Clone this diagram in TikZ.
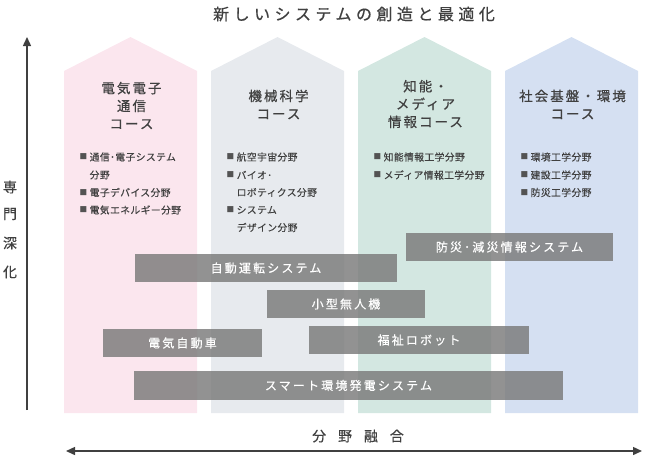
\documentclass[tikz,border=0pt]{standalone}
\usepackage{fontspec}
\setmainfont{Noto Sans CJK JP}
\usetikzlibrary{arrows.meta}
\definecolor{cpink}{HTML}{FBE6EE}
\definecolor{cgray}{HTML}{E7EAEE}
\definecolor{cmint}{HTML}{D3E7E1}
\definecolor{cblue}{HTML}{D5E0F2}
\definecolor{ink}{HTML}{404040}
\definecolor{barfill}{HTML}{7A7A7A}
\newcommand\housecol[2]{\fill[#2] (#1,413) -- (#1,71) -- ({#1+66.5},37) -- ({#1+133},71) -- ({#1+133},413) -- cycle;}
\begin{document}
\begin{tikzpicture}[x=1pt,y=-1pt,
  coltitle/.style={align=center, text=ink, inner sep=0pt, font=\fontsize{13.5}{17.8}\selectfont\addfontfeature{LetterSpace=15,FakeBold=0.6}},
  bul/.style={anchor=west, text=ink, inner sep=0pt, font=\fontsize{9.8}{12}\selectfont\addfontfeature{LetterSpace=4,FakeBold=0.3}},
  bulmark/.style={anchor=west, text=ink!90, inner sep=0pt, font=\fontsize{7.6}{10}\selectfont},
  bar/.style={fill=barfill, fill opacity=0.82, text opacity=1, text=white, inner sep=0pt, minimum height=28pt, font=\fontsize{12}{14}\selectfont\addfontfeature{LetterSpace=18,FakeBold=0.4}},
  axisarrow/.style={draw=ink, line width=1.4pt, -{Triangle[length=9pt,width=8pt]}},
  axisarrow2/.style={draw=ink, line width=1.4pt, {Triangle[length=9pt,width=8pt]}-{Triangle[length=9pt,width=8pt]}},
  vlabel/.style={text=ink, inner sep=0pt, font=\fontsize{14}{16}\selectfont\addfontfeature{FakeBold=0.5}}
]
\useasboundingbox (0,0) rectangle (650,459);

% title
\node[text=ink, font=\fontsize{16}{18}\selectfont\addfontfeature{LetterSpace=28,FakeBold=0.6}] (title) at (354,14) {新しいシステムの創造と最適化};

% columns
\housecol{64}{cpink}
\housecol{211}{cgray}
\housecol{358}{cmint}
\housecol{505}{cblue}

% column titles
\node[coltitle] (t1) at (131.5,105.5) {電気電子\\通信\\コース};
\node[coltitle] (t2) at (278.5,104.5) {機械科学\\コース};
\node[coltitle] (t3) at (425.5,104) {知能・\\メディア\\情報コース};
\node[coltitle] (t4) at (572.5,104.5) {社会基盤・環境\\コース};

% bullets column 1
\node[bulmark] (b11) at (79.5,157) {■};
\node[bul] (l11) at (89.5,157) {通信･電子システム};
\node[bul] (l12) at (89.5,175) {分野};
\node[bulmark] (b12) at (79.5,192.5) {■};
\node[bul] (l13) at (89.5,192.5) {電子デバイス分野};
\node[bulmark] (b13) at (79.5,210) {■};
\node[bul] (l14) at (89.5,210) {電気エネルギー分野};

% bullets column 2
\node[bulmark] (b21) at (226.5,157) {■};
\node[bul] (l21) at (236.5,157) {航空宇宙分野};
\node[bulmark] (b22) at (226.5,175) {■};
\node[bul] (l22) at (236.5,175) {バイオ･};
\node[bul] (l23) at (236.5,192.5) {ロボティクス分野};
\node[bulmark] (b23) at (226.5,210) {■};
\node[bul] (l24) at (236.5,210) {システム};
\node[bul] (l25) at (236.5,227.5) {デザイン分野};

% bullets column 3
\node[bulmark] (b31) at (373.5,157) {■};
\node[bul] (l31) at (383.5,157) {知能情報工学分野};
\node[bulmark] (b32) at (373.5,175) {■};
\node[bul] (l32) at (383.5,175) {メディア情報工学分野};

% bullets column 4
\node[bulmark] (b41) at (520.5,157) {■};
\node[bul] (l41) at (530.5,157) {環境工学分野};
\node[bulmark] (b42) at (520.5,175) {■};
\node[bul] (l42) at (530.5,175) {建設工学分野};
\node[bulmark] (b43) at (520.5,192.5) {■};
\node[bul] (l43) at (530.5,192.5) {防災工学分野};

% bars
\node[bar, minimum width=207pt] (p1) at (509.5,247) {防災･減災情報システム};
\node[bar, minimum width=262pt] (p2) at (266,268) {自動運転システム};
\node[bar, minimum width=158pt] (p3) at (346,304) {小型無人機};
\node[bar, minimum width=159pt] (p4) at (182.5,343) {電気自動車};
\node[bar, minimum width=220pt] (p5) at (419,340) {福祉ロボット};
\node[bar, minimum width=429pt, minimum height=29pt] (p6) at (348.5,385.5) {スマート環境発電システム};

% vertical axis
\coordinate (vbot) at (27,410);
\coordinate (vtop) at (27,37);
\draw[axisarrow] (vbot) -- (vtop);
\node[vlabel] (v1) at (10,187) {専};
\node[vlabel] (v2) at (10,214) {門};
\node[vlabel] (v3) at (10,243) {深};
\node[vlabel] (v4) at (10,272) {化};

% horizontal axis
\coordinate (hl) at (66,451);
\coordinate (hr) at (642,451);
\draw[axisarrow2] (hl) -- (hr);
\node[text=ink, inner sep=0pt, font=\fontsize{14}{16}\selectfont\addfontfeature{LetterSpace=85,FakeBold=0.5}] (hlabel) at (358,436) {分野融合};
\end{tikzpicture}
\end{document}
